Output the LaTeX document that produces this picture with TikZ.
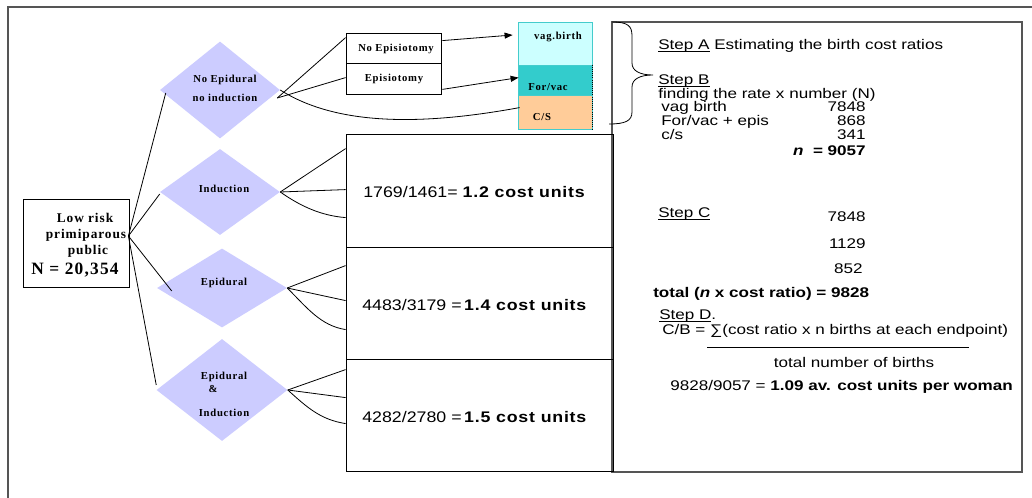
\documentclass[tikz,border=0pt]{standalone}
\usepackage{fontspec}
\setmainfont{Liberation Serif}
\newfontfamily\pnl[FakeStretch=1.22]{Liberation Sans}
\newfontfamily\cst[FakeStretch=1.16]{Liberation Sans}
\newfontfamily\tms[LetterSpace=7]{Liberation Serif}
\usetikzlibrary{shapes.geometric,calc,arrows.meta}
\definecolor{diaC}{HTML}{CCCCFF}
\definecolor{vbC}{HTML}{CCFFFF}
\definecolor{fvC}{HTML}{33CCCC}
\definecolor{csC}{HTML}{FFCC99}
\definecolor{stkB}{HTML}{44CCCC}
\definecolor{frameC}{HTML}{555555}
\newsavebox\myulbox
\newcommand\myul[1]{\sbox\myulbox{#1}\rlap{\usebox\myulbox}\rule[-1.4pt]{\wd\myulbox}{0.6pt}}
\newcommand\wideb[1]{\textbf{\addfontfeatures{LetterSpace=5}#1}}
\begin{document}
\begin{tikzpicture}[x=0.75pt,y=-0.75pt,
  box/.style={rectangle, draw=black, line width=0.6pt, inner sep=0pt},
  dia/.style={diamond, fill=diaC, draw=none, inner sep=0pt},
  stk/.style={rectangle, draw=stkB, line width=0.6pt, inner sep=0pt, minimum width=55.5pt},
  lbl/.style={inner sep=0pt, font=\tms\bfseries\fontsize{8}{9}\selectfont},
  big/.style={inner sep=0pt, font=\tms\bfseries\fontsize{10}{11}\selectfont},
  ptx/.style={inner sep=0pt, anchor=base west, font=\pnl\fontsize{10.5}{12}\selectfont},
  pnum/.style={ptx, anchor=base east},
  ctx/.style={inner sep=0pt, anchor=base west, font=\cst\fontsize{11.5}{13}\selectfont},
  conn/.style={draw=black, line width=0.6pt},
  arr/.style={conn, -{Triangle[length=6pt,width=4.5pt]}}
]
\useasboundingbox (0,0) rectangle (1032,498);
\fill[white] (0,0) rectangle (1032,498);
\draw[frameC, line width=1.1pt] (1045,7) -- (8,7) -- (8,510);

% right panel
\node[rectangle, draw=frameC, line width=1.1pt, inner sep=0pt, minimum width=307.5pt, minimum height=337.5pt] (panel) at (817,247) {};

% brace
\draw[line width=0.6pt] (612,22) .. controls (628,22) and (632,26) .. (632,36) -- (632,63)
  .. controls (632,71) and (640,75) .. (653,75)
  .. controls (640,75) and (632,79) .. (632,87) -- (632,112)
  .. controls (632,121) and (625,124) .. (609,124);

% start box
\node[box, minimum width=79.5pt, minimum height=66pt] (lr) at (76,243) {};
\node[big] (lr1) at (85,218) {Low risk};
\node[big] (lr2) at (86,235) {primiparous};
\node[big] (lr3) at (88,251) {public};
\node[inner sep=0pt, font=\tms\bfseries\fontsize{13}{14}\selectfont] (lr4) at (75,270) {N = 20,354};
\coordinate (o) at ($(lr.east)+(-1,-7)$);

% diamonds
\node[dia, minimum width=90pt, minimum height=72.75pt] (d1) at (220,90) {};
\node[dia, minimum width=90pt, minimum height=64.5pt] (d2) at (220,192) {};
\node[dia, minimum width=97.5pt, minimum height=59.25pt] (d3) at (222,288) {};
\node[dia, minimum width=98.25pt, minimum height=76.5pt] (d4) at (222,390) {};
\node[lbl] (d1a) at (225,80) {No Epidural};
\node[lbl] (d1b) at (225,98) {no induction};
\node[lbl] (d2a) at (224,189) {Induction};
\node[lbl] (d3a) at (224,283) {Epidural};
\node[lbl] (d4a) at (224,377) {Epidural};
\node[lbl] (d4b) at (213,389) {\&};
\node[lbl] (d4c) at (224,413) {Induction};

% episiotomy boxes
\node[box, minimum width=71.25pt, minimum height=22.5pt] (ne) at (393.5,48) {};
\node[box, minimum width=71.25pt, minimum height=23.25pt] (ep) at (393.5,78.5) {};
\node[lbl] (net) at (396,49) {No Episiotomy};
\node[lbl] (ept) at (394,79) {Episiotomy};

% outcome stack
\node[stk, fill=vbC, minimum height=32.25pt] (vb) at (555,43.5) {};
\node[stk, fill=fvC, minimum height=22.5pt] (fv) at (555,80) {};
\node[stk, fill=csC, minimum height=25.5pt] (cs) at (555,112) {};
\draw[black, line width=0.6pt, densely dotted] (fv.north east) -- (cs.south east);
\node[lbl] (vbt) at (558,37) {vag.birth};
\node[lbl] (fvt) at (548,87) {For/vac};
\node[lbl] (cst) at (542,117) {C/S};

% cost boxes
\node[box, minimum width=200.25pt, minimum height=84.75pt] (c1) at (479.5,190.5) {};
\node[box, minimum width=200.25pt, minimum height=84pt] (c2) at (479.5,303) {};
\node[box, minimum width=200.25pt, minimum height=84pt] (c3) at (479.5,415) {};
\node[ctx] (c1t) at (363,198) {1769/1461= \wideb{1.2 cost units}};
\node[ctx] (c2t) at (362,311) {4483/3179 =\,\wideb{1.4 cost units}};
\node[ctx] (c3t) at (362,423) {4282/2780 =\,\wideb{1.5 cost units}};

% connectors from start
\draw[conn] (o) -- ($(d1.west)+(6,3)$);
\draw[conn] (o) -- ($(d2.west)+(0,2)$);
\draw[conn] (o) -- ($(d3.west)+(15,3)$);
\draw[conn] (o) -- ($(d4.west)+(0,-5)$);

% diamond 1 branches
\draw[conn] ($(d1.east)+(-3,8)$) -- ($(ne.north west)+(0,5)$);
\draw[conn] ($(d1.east)+(-3,8)$) -- ($(ep.north west)+(0,15)$);
\draw[conn] (d1.east) .. controls (340,128) and (430,124) .. ($(cs.north west)+(2,13)$);
\draw[arr] ($(ne.north east)+(1,8)$) -- ($(vb.west)+(-5,-8.5)$);
\draw[arr] ($(ep.south east)+(1,-5)$) -- ($(fv.north west)+(1,13)$);

% diamond 2 branches
\draw[conn] (d2.east) -- ($(c1.north west)+(0,15)$);
\draw[conn] (d2.east) -- ($(c1.north west)+(0,56)$);
\draw[conn] (d2.east) .. controls +(20,14) and +(-25,-2) .. ($(c1.north west)+(0,84)$);
% diamond 3 branches
\draw[conn] (d3.east) -- ($(c2.north west)+(0,19)$);
\draw[conn] (d3.east) -- ($(c2.north west)+(0,54)$);
\draw[conn] (d3.east) .. controls +(20,20) and +(-25,-4) .. ($(c2.north west)+(0,83)$);
% diamond 4 branches
\draw[conn] (d4.east) -- ($(c3.north west)+(0,11)$);
\draw[conn] (d4.east) -- ($(c3.north west)+(0,39)$);
\draw[conn] (d4.east) .. controls +(20,18) and +(-25,-4) .. ($(c3.north west)+(0,65)$);

% panel text
\node[ptx] (sa) at (658,50) {\myul{Step A} Estimating the birth cost ratios};
\node[ptx] (sb) at (658,85) {\myul{Step B}};
\node[ptx] (sb1) at (658,99) {finding the rate x number (N)};
\node[ptx] (sb2) at (661,112) {vag birth};
\node[pnum] (sb2n) at (866,112) {7848};
\node[ptx] (sb3) at (661,126) {For/vac + epis};
\node[pnum] (sb3n) at (866,126) {868};
\node[ptx] (sb4) at (661,140) {c/s};
\node[pnum] (sb4n) at (866,140) {341};
\node[pnum] (sbn) at (866,156) {\textbf{\textit{n}\ \ = 9057}};
\node[ptx] (sc) at (658,218) {\myul{Step C}};
\node[pnum] (sc1) at (866,222) {7848};
\node[pnum] (sc2) at (866,249) {1129};
\node[pnum] (sc3) at (863,274) {852};
\node[ptx] (tot) at (653,298) {\textbf{total (\textit{n} x cost ratio) = 9828}};
\node[ptx] (sd) at (659,320) {\myul{Step D}.};
\node[ptx] (sd1) at (662,335) {C/B = ∑(cost ratio x n births at each endpoint)};
\coordinate (fl1) at (707,347);
\coordinate (fl2) at (969,347);
\draw[line width=0.6pt] (fl1) -- (fl2);
\node[ptx, anchor=base] (sd2) at (854,368) {total number of births};
\node[ptx] (res) at (670,391) {9828/9057 = \textbf{1.09 av. cost units per woman}};
\end{tikzpicture}
\end{document}
